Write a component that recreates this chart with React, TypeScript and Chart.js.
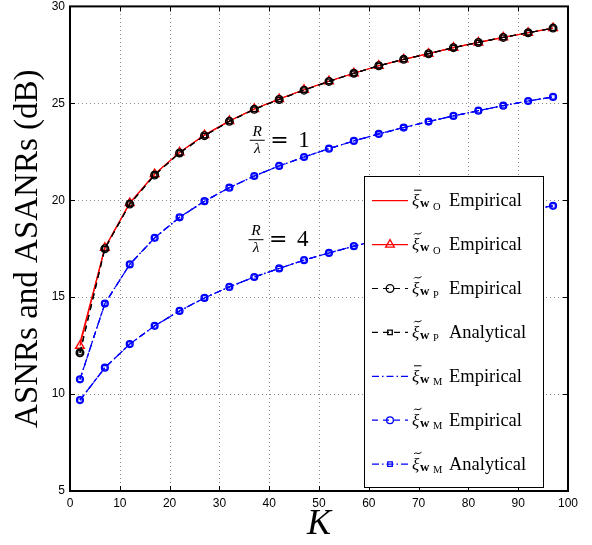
import React, { useEffect, useRef } from "react";
import { Chart, registerables } from "chart.js";
Chart.register(...registerables);

// ---------- data ----------
const K = [2, 7, 12, 17, 22, 27, 32, 37, 42, 47, 52, 57, 62, 67, 72, 77, 82, 87, 92, 97];
const xTicks = [0, 10, 20, 30, 40, 50, 60, 70, 80, 90, 100];
const yTicks = [5, 10, 15, 20, 25, 30];

const oBarEmp = [12.65, 17.55, 19.85, 21.35, 22.47, 23.36, 24.09, 24.71, 25.22, 25.7, 26.14, 26.55, 26.94, 27.27, 27.56, 27.87, 28.14, 28.4, 28.64, 28.88];
const oTildeEmp = [12.49, 17.55, 19.85, 21.35, 22.47, 23.36, 24.09, 24.71, 25.22, 25.7, 26.14, 26.55, 26.94, 27.27, 27.56, 27.87, 28.14, 28.4, 28.64, 28.88];
const pTildeEmp = [12.13, 17.5, 19.8, 21.3, 22.44, 23.33, 24.07, 24.69, 25.2, 25.68, 26.13, 26.55, 26.94, 27.27, 27.56, 27.87, 28.14, 28.4, 28.64, 28.88];
const pTildeAna = [12.13, 17.5, 19.8, 21.3, 22.44, 23.33, 24.07, 24.69, 25.2, 25.68, 26.13, 26.55, 26.94, 27.27, 27.56, 27.87, 28.14, 28.4, 28.64, 28.88];
const mR1 = [10.76, 14.67, 16.69, 18.06, 19.12, 19.95, 20.65, 21.25, 21.77, 22.23, 22.66, 23.06, 23.42, 23.75, 24.06, 24.35, 24.62, 24.88, 25.12, 25.33];
const mR4 = [9.69, 11.36, 12.58, 13.52, 14.29, 14.96, 15.53, 16.04, 16.48, 16.91, 17.28, 17.63, 17.95, 18.28, 18.54, 18.8, 19.05, 19.29, 19.51, 19.71];

const ratioLabels = ["1", "4"];
const ratioAnchorK = [37.6, 37.35];
const ratioAnchorV = [23.12, 17.99];

type Marker = "none" | "circle" | "rect" | "triangle";
interface Series {
  accent: "bar" | "tilde";
  sub: string;
  word: string;
  color: string;
  dash: number[];
  marker: Marker;
  radius: number;
  sets: number[][];
}

const RED = "rgb(255,0,0)";
const BLUE = "rgb(0,0,255)";
const DASH = [6, 5];
const DASHDOT = [7, 3, 1.5, 3];

const SERIES: Series[] = [
  { accent: "bar", sub: "O", word: "Empirical", color: RED, dash: [], marker: "none", radius: 0, sets: [oBarEmp] },
  { accent: "tilde", sub: "O", word: "Empirical", color: RED, dash: [], marker: "triangle", radius: 5, sets: [oTildeEmp] },
  { accent: "tilde", sub: "P", word: "Empirical", color: "#000", dash: DASH, marker: "circle", radius: 3.8, sets: [pTildeEmp] },
  { accent: "tilde", sub: "P", word: "Analytical", color: "#000", dash: DASH, marker: "rect", radius: 3.2, sets: [pTildeAna] },
  { accent: "bar", sub: "M", word: "Empirical", color: BLUE, dash: DASHDOT, marker: "none", radius: 0, sets: [mR1, mR4] },
  { accent: "tilde", sub: "M", word: "Empirical", color: BLUE, dash: DASH, marker: "circle", radius: 3.4, sets: [mR1, mR4] },
  { accent: "tilde", sub: "M", word: "Analytical", color: BLUE, dash: DASHDOT, marker: "rect", radius: 3.2, sets: [mR1, mR4] },
];

const SERIF = '"Liberation Serif", "Times New Roman", serif';
const SANS = '"Liberation Sans", Arial, Helvetica, sans-serif';

function drawMarker(ctx: CanvasRenderingContext2D, kind: Marker, x: number, y: number, r: number, color: string) {
  if (kind === "none") return;
  ctx.save();
  ctx.strokeStyle = color;
  ctx.lineWidth = 1.3;
  ctx.setLineDash([]);
  ctx.beginPath();
  if (kind === "circle") ctx.arc(x, y, r, 0, Math.PI * 2);
  else if (kind === "rect") {
    const s = r * Math.SQRT1_2;
    ctx.rect(x - s, y - s, 2 * s, 2 * s);
  } else {
    const a = (2 * Math.PI) / 3;
    ctx.moveTo(x, y - r);
    ctx.lineTo(x + r * Math.sin(a), y - r * Math.cos(a));
    ctx.lineTo(x - r * Math.sin(a), y - r * Math.cos(a));
    ctx.closePath();
  }
  ctx.stroke();
  ctx.restore();
}

const decor = {
  id: "decor",
  beforeDatasetsDraw(chart: any) {
    const { ctx, chartArea: a, scales } = chart;
    ctx.save();
    ctx.strokeStyle = "rgba(0,0,0,0.45)";
    ctx.lineWidth = 1;
    ctx.setLineDash([1, 3]);
    xTicks.forEach((v) => {
      if (v <= 0 || v >= 100) return;
      const px = Math.round(scales.x.getPixelForValue(v)) + 0.5;
      ctx.beginPath();
      ctx.moveTo(px, a.bottom);
      ctx.lineTo(px, a.top);
      ctx.stroke();
    });
    yTicks.forEach((v) => {
      if (v <= 5 || v >= 30) return;
      const py = Math.round(scales.y.getPixelForValue(v)) + 0.5;
      ctx.beginPath();
      ctx.moveTo(a.left, py);
      ctx.lineTo(a.right, py);
      ctx.stroke();
    });
    ctx.restore();
  },
  afterDatasetsDraw(chart: any) {
    const { ctx, chartArea: a, scales } = chart;
    ctx.save();
    // box
    ctx.setLineDash([]);
    ctx.strokeStyle = "#000";
    ctx.lineWidth = 2;
    ctx.strokeRect(a.left, a.top, a.right - a.left, a.bottom - a.top);
    // inner ticks
    ctx.lineWidth = 1;
    const tl = 5;
    xTicks.forEach((v) => {
      const px = Math.round(scales.x.getPixelForValue(v)) + 0.5;
      ctx.beginPath();
      ctx.moveTo(px, a.bottom);
      ctx.lineTo(px, a.bottom - tl);
      ctx.moveTo(px, a.top);
      ctx.lineTo(px, a.top + tl);
      ctx.stroke();
    });
    yTicks.forEach((v) => {
      const py = Math.round(scales.y.getPixelForValue(v)) + 0.5;
      ctx.beginPath();
      ctx.moveTo(a.left, py);
      ctx.lineTo(a.left + tl, py);
      ctx.moveTo(a.right, py);
      ctx.lineTo(a.right - tl, py);
      ctx.stroke();
    });

    // ratio annotations
    ctx.fillStyle = "#000";
    ratioLabels.forEach((lab, i) => {
      const cx = scales.x.getPixelForValue(ratioAnchorK[i]);
      const by = scales.y.getPixelForValue(ratioAnchorV[i]);
      ctx.textAlign = "center";
      ctx.textBaseline = "alphabetic";
      ctx.font = `italic 15.5px ${SERIF}`;
      ctx.fillText("R", cx, by - 4);
      ctx.fillText("λ", cx, by + 13);
      ctx.beginPath();
      ctx.lineWidth = 1;
      ctx.moveTo(cx - 7.5, by + 0.5);
      ctx.lineTo(cx + 7.5, by + 0.5);
      ctx.stroke();
      ctx.textAlign = "left";
      ctx.font = `22px "DejaVu Serif", ${SERIF}`;
      ctx.fillText("=", cx + 13, by + 7);
      ctx.font = `23px ${SERIF}`;
      ctx.fillText(lab, cx + 41, by + 7);
    });

    // legend
    const L = 364.5, T = 176.5, R = 543.5, B = 487.5;
    ctx.fillStyle = "#fff";
    ctx.fillRect(L, T, R - L, B - T);
    ctx.strokeStyle = "#000";
    ctx.lineWidth = 1;
    ctx.strokeRect(L, T, R - L, B - T);
    SERIES.forEach((s, i) => {
      const ry = 200.7 + i * 43.9;
      ctx.save();
      ctx.strokeStyle = s.color;
      ctx.lineWidth = 1.2;
      ctx.setLineDash(s.dash);
      ctx.beginPath();
      ctx.moveTo(372, ry);
      ctx.lineTo(408, ry);
      ctx.stroke();
      ctx.restore();
      drawMarker(ctx, s.marker, 390, ry, s.radius, s.color);
      // symbol
      const x0 = 412;
      const base = ry + 5.5;
      ctx.fillStyle = "#000";
      ctx.textAlign = "left";
      ctx.textBaseline = "alphabetic";
      ctx.font = `italic 17px ${SERIF}`;
      ctx.fillText("ξ", x0, base);
      ctx.strokeStyle = "#000";
      ctx.lineWidth = 1;
      ctx.beginPath();
      if (s.accent === "bar") {
        ctx.moveTo(x0 + 2, ry - 10.5);
        ctx.lineTo(x0 + 9.5, ry - 10.5);
      } else {
        const ty = ry - 11;
        ctx.moveTo(x0 + 2, ty + 1);
        ctx.bezierCurveTo(x0 + 4, ty - 2, x0 + 5.5, ty + 2.5, x0 + 9.5, ty - 1);
      }
      ctx.stroke();
      ctx.font = `bold 13px ${SERIF}`;
      ctx.fillText("w", x0 + 8, ry + 6.5);
      ctx.font = `10.5px ${SERIF}`;
      ctx.fillText(s.sub, x0 + 21, ry + 9);
      ctx.font = `18.5px ${SERIF}`;
      ctx.fillText(s.word, 449, base);
    });
    ctx.restore();
  },
  afterDraw(chart: any) {
    const { ctx, chartArea: a } = chart;
    ctx.save();
    ctx.fillStyle = "#000";
    ctx.textAlign = "center";
    ctx.textBaseline = "alphabetic";
    ctx.font = `italic 36px ${SERIF}`;
    ctx.fillText("K", (a.left + a.right) / 2, 534);
    ctx.translate(37, (a.top + a.bottom) / 2);
    ctx.rotate(-Math.PI / 2);
    ctx.font = `33px ${SERIF}`;
    ctx.fillText("ASNRs and ASANRs (dB)", 0, 0);
    ctx.restore();
  },
};

export default function App() {
  const ref = useRef<HTMLCanvasElement>(null);
  useEffect(() => {
    const canvas = ref.current;
    if (!canvas) return;
    const datasets: any[] = [];
    SERIES.forEach((s, si) =>
      s.sets.forEach((arr) =>
        datasets.push({
          label: `${s.sub} ${s.word}`,
          data: K.map((k, i) => ({ x: k, y: arr[i] })),
          borderColor: s.color,
          borderWidth: 1.2,
          borderDash: s.dash,
          fill: false,
          tension: 0,
          pointStyle: s.marker === "none" ? "circle" : s.marker,
          pointRadius: s.marker === "none" ? 0 : s.radius,
          pointBorderColor: s.color,
          pointBackgroundColor: "rgba(0,0,0,0)",
          pointBorderWidth: 1.4,
          order: 100 - si,
        })
      )
    );
    const tickFont = { family: SANS, size: 12 };
    const chart = new Chart(canvas, {
      type: "line",
      data: { datasets },
      options: {
        animation: false,
        responsive: false,
        events: [],
        layout: { padding: { left: 0, right: 24, top: 6, bottom: 0 } },
        plugins: { legend: { display: false }, tooltip: { enabled: false }, title: { display: false } },
        scales: {
          x: {
            type: "linear",
            min: 0,
            max: 100,
            afterBuildTicks: (s: any) => {
              s.ticks = xTicks.map((v) => ({ value: v }));
            },
            afterFit: (s: any) => {
              s.height = 54;
              s.paddingLeft = 0;
              s.paddingRight = 0;
            },
            grid: { display: false, drawTicks: false },
            border: { display: false },
            ticks: { font: tickFont, color: "#000", padding: 5, maxRotation: 0, autoSkip: false },
          },
          y: {
            type: "linear",
            min: 5,
            max: 30,
            afterBuildTicks: (s: any) => {
              s.ticks = yTicks.map((v) => ({ value: v }));
            },
            afterFit: (s: any) => {
              s.width = 70;
              s.paddingTop = 0;
              s.paddingBottom = 0;
            },
            grid: { display: false, drawTicks: false },
            border: { display: false },
            ticks: { font: tickFont, color: "#000", padding: 5, autoSkip: false },
          },
        },
      } as any,
      plugins: [decor as any],
    });
    return () => chart.destroy();
  }, []);
  return (
    <div style={{ position: "absolute", left: 0, top: 0, width: 592, height: 545, background: "#fff" }}>
      <canvas ref={ref} width={592} height={545} style={{ display: "block" }} />
    </div>
  );
}
